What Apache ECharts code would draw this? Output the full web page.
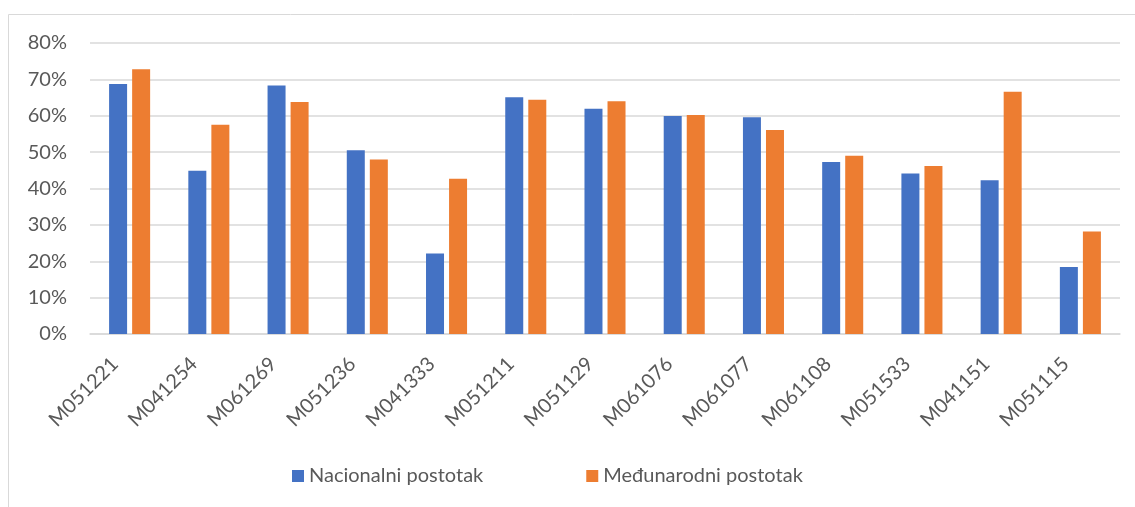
<!DOCTYPE html>
<html>
<head>
<meta charset="utf-8">
<script src="https://cdn.jsdelivr.net/npm/echarts@6/dist/echarts.min.js"></script>
<style>
  html, body { margin: 0; padding: 0; background: #fff; }
  #chart { width: 1135px; height: 507px; }
</style>
</head>
<body>
<div id="chart"></div>
<script>
  // podaci
  var categories = ['M051221', 'M041254', 'M061269', 'M051236', 'M041333', 'M051211', 'M051129',
    'M061076', 'M061077', 'M061108', 'M051533', 'M041151', 'M051115'];
  var nacionalni = [68.7, 44.9, 68.3, 50.5, 22.1, 65.1, 61.9, 59.9, 59.6, 47.3, 44.1, 42.3, 18.4];
  var medunarodni = [72.8, 57.5, 63.8, 48.0, 42.7, 64.4, 64.0, 60.2, 56.1, 49.0, 46.2, 66.6, 28.2];
  var seriesNames = ['Nacionalni postotak', 'Međunarodni postotak'];

  var font = 'Lato, "Open Sans", sans-serif';
  var chart = echarts.init(document.getElementById('chart'));

  var option = {
    animation: false,
    color: ['#4472C4', '#ED7D31'],
    graphic: [
      {
        type: 'rect',
        shape: { x: 8.5, y: 14.5, width: 1200, height: 600 },
        style: { fill: 'none', stroke: '#d9d9d9', lineWidth: 1 },
        silent: true
      }
    ],
    grid: { left: 90, right: 15, top: 43, bottom: 173 },
    legend: {
      left: 292,
      top: 466,
      padding: 0,
      icon: 'rect',
      itemWidth: 12,
      itemHeight: 12,
      itemGap: 103,
      textStyle: { fontFamily: font, fontSize: 20, color: '#595959' },
      data: seriesNames
    },
    xAxis: {
      type: 'category',
      data: categories,
      axisTick: { show: false },
      axisLine: { lineStyle: { color: '#d9d9d9', width: 1.5 } },
      axisLabel: {
        rotate: 45, margin: 12, padding: [0, 21, 0, 0],
        fontFamily: font, fontSize: 20, color: '#595959'
      }
    },
    yAxis: {
      type: 'value',
      min: 0,
      max: 80,
      interval: 10,
      axisLabel: { formatter: '{value}%', margin: 23, fontFamily: font, fontSize: 20, color: '#595959' },
      splitLine: { lineStyle: { color: '#d9d9d9', width: 1.5 } }
    },
    series: [
      {
        name: seriesNames[0],
        type: 'bar',
        barWidth: 18,
        barGap: '28%',
        data: nacionalni
      },
      {
        name: seriesNames[1],
        type: 'bar',
        barWidth: 18,
        barGap: '28%',
        data: medunarodni
      }
    ]
  };

  chart.setOption(option);
</script>
</body>
</html>
